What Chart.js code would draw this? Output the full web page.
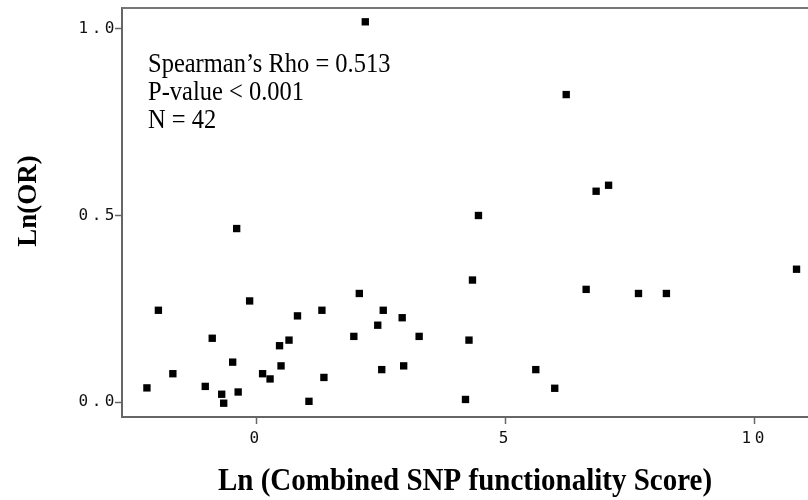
<!DOCTYPE html>
<html>
<head>
<meta charset="utf-8">
<script src="https://cdn.jsdelivr.net/npm/chart.js@4"></script>
<style>
  html, body { margin: 0; padding: 0; background: #fff; }
  #wrap { width: 808px; height: 500px; position: relative; }
</style>
</head>
<body>
<div id="wrap"><canvas id="c"></canvas></div>
<script>
// Ln (combined SNP functionality score) vs Ln(OR), 42 SNPs
const lnScore = [
  -2.19, -1.96, -1.67, -1.02, -0.88, -0.69, -0.65, -0.47, -0.36, -0.13,
   0.13,  0.28,  0.47,  0.50,  0.66,  0.83, -0.39,  1.06,  1.32,  1.36,
   1.96,  2.07,  2.44,  2.52,  2.55,  2.93,  2.96,  3.27,  4.20,  4.27,
   4.34,  5.61,  5.99,  2.19,  4.46,  6.22,  6.82,  7.07,  6.62,  7.67,
   8.23, 10.84
];
const lnOR = [
  0.038, 0.246, 0.076, 0.042, 0.171, 0.021, -0.003, 0.107, 0.027, 0.271,
  0.076, 0.062, 0.151, 0.097, 0.166, 0.231, 0.465, 0.002, 0.246, 0.066,
  0.176, 0.291, 0.206, 0.087, 0.246, 0.226, 0.097, 0.176, 0.007, 0.166,
  0.327, 0.087, 0.037, 1.019, 0.500, 0.824, 0.565, 0.581, 0.302, 0.291,
  0.291, 0.356
];
const xTicks = [0, 5, 10];
const yTicks = [0.0, 0.5, 1.0];
const statsLines = ['Spearman\u2019s Rho = 0.513', 'P-value < 0.001', 'N = 42'];
const xTitle = 'Ln (Combined SNP functionality Score)';
const yTitle = 'Ln(OR)';

const points = lnScore.map((x, i) => ({ x: x, y: lnOR[i] }));

// titles + stats box are drawn by hand so the serif text can be stretched like the source image
const textPlugin = {
  id: 'texts',
  beforeDraw(chart) {
    chart.ctx.letterSpacing = '3.5px';
  },
  afterDraw(chart) {
    const ctx = chart.ctx;
    const ca = chart.chartArea;
    ctx.save();
    ctx.letterSpacing = '0px';

    // top frame line
    ctx.strokeStyle = '#777';
    ctx.lineWidth = 2;
    ctx.beginPath();
    ctx.moveTo(ca.left, ca.top);
    ctx.lineTo(ca.right, ca.top);
    ctx.stroke();

    ctx.fillStyle = '#000';
    ctx.textBaseline = 'alphabetic';

    // stats text
    ctx.font = '24.5px "Liberation Serif", "Times New Roman", serif';
    ctx.textAlign = 'left';
    statsLines.forEach((line, i) => {
      ctx.save();
      ctx.translate(148, 72 + i * 28);
      ctx.scale(1, 1.14);
      ctx.fillText(line, 0, 0);
      ctx.restore();
    });

    // x title
    ctx.font = 'bold 29px "Liberation Serif", "Times New Roman", serif';
    ctx.textAlign = 'center';
    ctx.save();
    ctx.translate((ca.left + ca.right) / 2, 490);
    ctx.scale(1, 1.11);
    ctx.fillText(xTitle, 0, 0);
    ctx.restore();

    // y title
    ctx.font = 'bold 27px "Liberation Serif", "Times New Roman", serif';
    ctx.textBaseline = 'middle';
    ctx.save();
    ctx.translate(29, 201);
    ctx.rotate(-Math.PI / 2);
    ctx.fillText(yTitle, 0, 0);
    ctx.restore();

    ctx.restore();
  }
};

const tickFont = { family: '"DejaVu Sans Mono", monospace', size: 16 };

new Chart(document.getElementById('c'), {
  type: 'scatter',
  data: {
    datasets: [{
      data: points,
      pointStyle: 'rect',
      pointRadius: 5.2,
      pointBackgroundColor: '#000',
      pointBorderWidth: 0,
      showLine: false
    }]
  },
  options: {
    responsive: true,
    maintainAspectRatio: false,
    animation: false,
    layout: { autoPadding: false, padding: { top: 8, left: 0, right: 0, bottom: 0 } },
    plugins: { legend: { display: false }, tooltip: { enabled: false } },
    scales: {
      x: {
        type: 'linear',
        position: 'bottom',
        min: -2.69,
        max: 11.07,
        afterBuildTicks: s => { s.ticks = xTicks.map(v => ({ value: v })); },
        afterFit: s => { s.height = 83; s.paddingRight = 0; s.paddingLeft = 0; },
        grid: { drawOnChartArea: false, drawTicks: true, tickLength: 7, tickColor: '#666', tickWidth: 1.5 },
        border: { display: true, color: '#666', width: 2 },
        ticks: { font: tickFont, color: '#111', padding: 5, maxRotation: 0, callback: v => String(v) }
      },
      y: {
        type: 'linear',
        min: -0.04,
        max: 1.056,
        afterBuildTicks: s => { s.ticks = yTicks.map(v => ({ value: v })); },
        afterFit: s => { s.width = 122; },
        grid: { drawOnChartArea: false, drawTicks: true, tickLength: 7, tickColor: '#666', tickWidth: 1.5 },
        border: { display: true, color: '#666', width: 2 },
        ticks: { font: tickFont, color: '#111', padding: -3, callback: v => v.toFixed(1) }
      }
    }
  },
  plugins: [textPlugin]
});
</script>
</body>
</html>
